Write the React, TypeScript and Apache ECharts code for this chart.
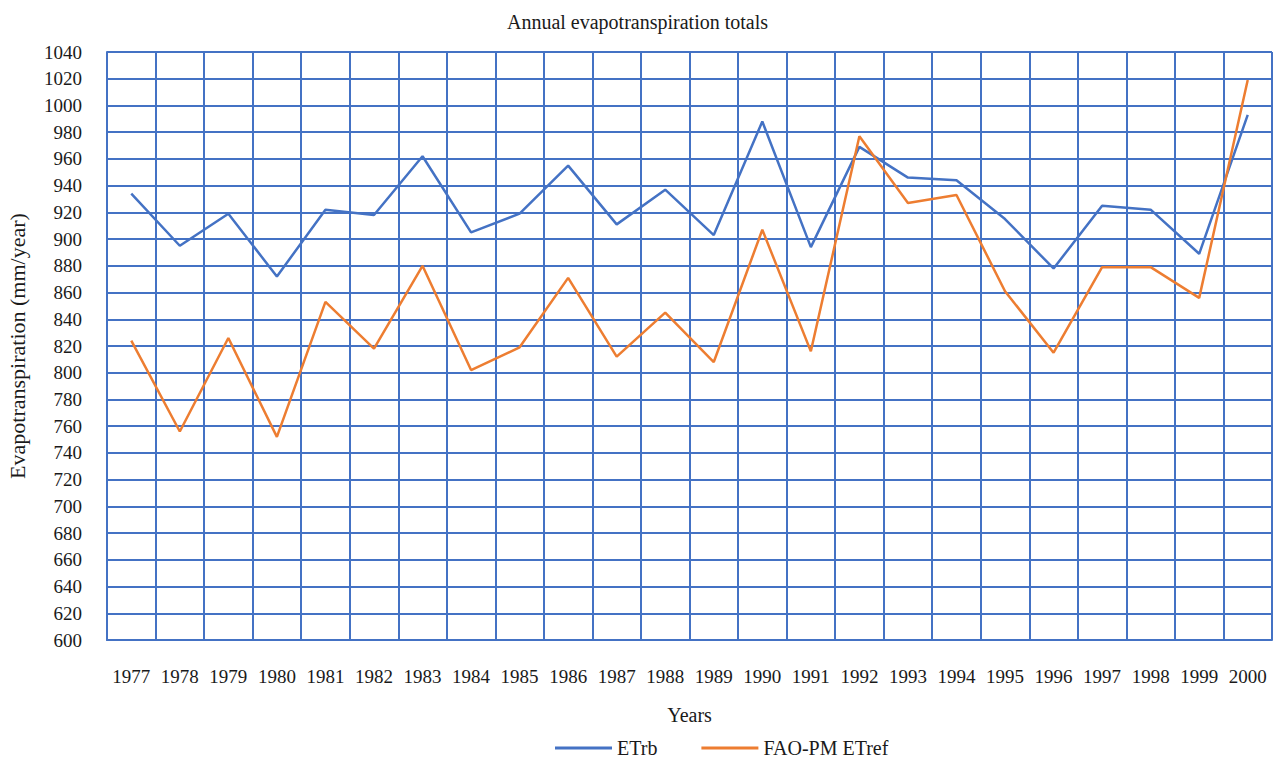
import React, { useEffect, useRef } from "react";
import * as echarts from "echarts";

const years = ["1977","1978","1979","1980","1981","1982","1983","1984","1985","1986","1987","1988","1989","1990","1991","1992","1993","1994","1995","1996","1997","1998","1999","2000"];
const etrb = [934, 895, 919, 872, 922, 918, 962, 905, 919, 955, 911, 937, 903, 988, 894, 969, 946, 944, 915, 878, 925, 922, 889, 993];
const faoPm = [824, 756, 826, 752, 853, 818, 880, 802, 819, 871, 812, 845, 808, 907, 816, 977, 927, 933, 861, 815, 879, 879, 856, 1019];

const FONT = "Liberation Serif";
const BLUE = "#4472C4";
const ORANGE = "#ED7D31";
const TEXT = "#1a1a1a";

export default function App() {
  const ref = useRef<HTMLDivElement>(null);
  useEffect(() => {
    if (!ref.current) return;
    const chart = echarts.init(ref.current, null, { renderer: "svg" });
    chart.setOption({
      animation: false,
      backgroundColor: "#fff",
      title: {
        text: "Annual evapotranspiration totals",
        left: "center",
        top: 7,
        textStyle: { fontFamily: FONT, fontSize: 20, fontWeight: "normal", color: TEXT },
      },
      legend: {
        top: 738,
        left: 555,
        padding: 0,
        itemWidth: 57,
        itemHeight: 3,
        itemGap: 44,
        icon: "rect",
        textStyle: { fontFamily: FONT, fontSize: 20, color: TEXT },
        data: ["ETrb", "FAO-PM ETref"],
      },
      grid: { left: 107, right: 3, top: 52, bottom: 120, outerBoundsMode: "none", containLabel: false },
      xAxis: {
        type: "category",
        data: years,
        boundaryGap: true,
        name: "Years",
        nameLocation: "middle",
        nameGap: 65,
        nameTextStyle: { fontFamily: FONT, fontSize: 20, color: TEXT },
        axisLine: { show: true, lineStyle: { color: BLUE, width: 2 } },
        axisTick: { show: false },
        axisLabel: { fontFamily: FONT, fontSize: 19, color: TEXT, margin: 27, interval: 0 },
        splitLine: { show: true, lineStyle: { color: BLUE, width: 2 } },
      },
      yAxis: {
        type: "value",
        min: 600,
        max: 1040,
        interval: 20,
        name: "Evapotranspiration (mm/year)",
        nameLocation: "middle",
        nameGap: 79,
        nameTextStyle: { fontFamily: FONT, fontSize: 22, color: TEXT },
        axisLine: { show: true, lineStyle: { color: BLUE, width: 2 } },
        axisTick: { show: false },
        axisLabel: { fontFamily: FONT, fontSize: 19, color: TEXT, margin: 25, formatter: (v: number) => String(v) },
        splitLine: { show: true, lineStyle: { color: BLUE, width: 2 } },
      },
      series: [
        {
          name: "ETrb",
          type: "line",
          data: etrb,
          symbol: "none",
          itemStyle: { color: BLUE },
          lineStyle: { color: BLUE, width: 2.5 },
        },
        {
          name: "FAO-PM ETref",
          type: "line",
          data: faoPm,
          symbol: "none",
          itemStyle: { color: ORANGE },
          lineStyle: { color: ORANGE, width: 2.5 },
        },
      ],
    });
    return () => chart.dispose();
  }, []);
  return <div ref={ref} style={{ width: 1275, height: 760, position: "absolute", left: 0, top: 0 }} />;
}
